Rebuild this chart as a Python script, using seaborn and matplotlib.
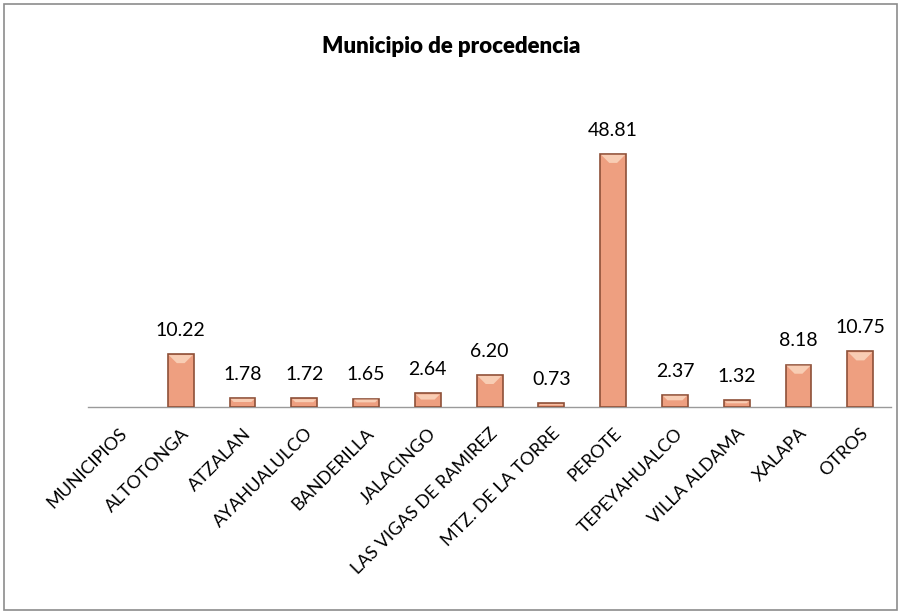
import matplotlib
matplotlib.use("Agg")
import matplotlib.pyplot as plt
import seaborn as sns
import numpy as np
import pandas as pd
from matplotlib.patches import Rectangle, Polygon

categories = ["MUNICIPIOS", "ALTOTONGA", "ATZALAN", "AYAHUALULCO", "BANDERILLA",
              "JALACINGO", "LAS VIGAS DE RAMIREZ", "MTZ. DE LA TORRE", "PEROTE",
              "TEPEYAHUALCO", "VILLA ALDAMA", "XALAPA", "OTROS"]
values = [np.nan, 10.22, 1.78, 1.72, 1.65, 2.64, 6.20, 0.73, 48.81, 2.37, 1.32, 8.18, 10.75]
title = "Municipio de procedencia"

sns.set_theme(style="white")
plt.rcParams['font.family'] = ['Lato', 'DejaVu Sans']

df = pd.DataFrame({"cat": categories, "val": values})

fig = plt.figure(figsize=(9.02, 6.14), dpi=100)
ax = fig.add_axes([0.0976, 0.337, 0.8904, 0.507])

sns.barplot(data=df, x="cat", y="val", order=categories, ax=ax,
            color="#EE9F80", edgecolor="#8E5038", linewidth=1.2, width=0.42,
            saturation=1, errorbar=None)

ax.set_ylim(0, 60)
ax.set_xlim(-0.5, len(categories) - 0.5)
ax.set_xlabel("")
ax.set_ylabel("")
ax.set_yticks([])
for s in ["top", "right", "left"]:
    ax.spines[s].set_visible(False)
ax.spines["bottom"].set_color("#9A9A9A")
ax.spines["bottom"].set_linewidth(1.0)
ax.spines["bottom"].set_zorder(0.5)
ax.tick_params(axis="x", length=0, pad=13)
ax.set_xticks(range(len(categories)))
ax.set_xticklabels(categories, rotation=45, ha="right", rotation_mode="anchor",
                   fontsize=13, color="black")

# subtle top bevel highlight derived from each drawn bar
fig.canvas.draw()
for p in ax.patches:
    h = p.get_height()
    if not np.isfinite(h) or h <= 0:
        continue
    (x0, y0), (x1, y1) = ax.transData.transform([(p.get_x(), 0), (p.get_x() + p.get_width(), h)])
    w = x1 - x0
    d = min(w * 0.35, (y1 - y0) * 0.45)
    poly = Polygon([(x0 + 1, y1 - 1), (x1 - 1, y1 - 1), (x1 - d, y1 - d), (x0 + d, y1 - d)],
                   closed=True, transform=None, facecolor="#F8CDB4", edgecolor="none", zorder=3)
    ax.add_artist(poly)

for i, v in enumerate(values):
    if not np.isnan(v):
        ax.annotate(f"{v:.2f}", (i, v), xytext=(0, 11), textcoords="offset points",
                    ha="center", va="bottom", fontsize=14, color="black")

fig.text(0.5, 0.925, title, ha="center", va="center", fontsize=16,
         fontweight="heavy", color="black")

fig.patches.append(Rectangle((0.004, 0.006), 0.99, 0.988, transform=fig.transFigure,
                             fill=False, edgecolor="#8C8C8C", linewidth=1.2))

fig.savefig("out.png", dpi=100)
